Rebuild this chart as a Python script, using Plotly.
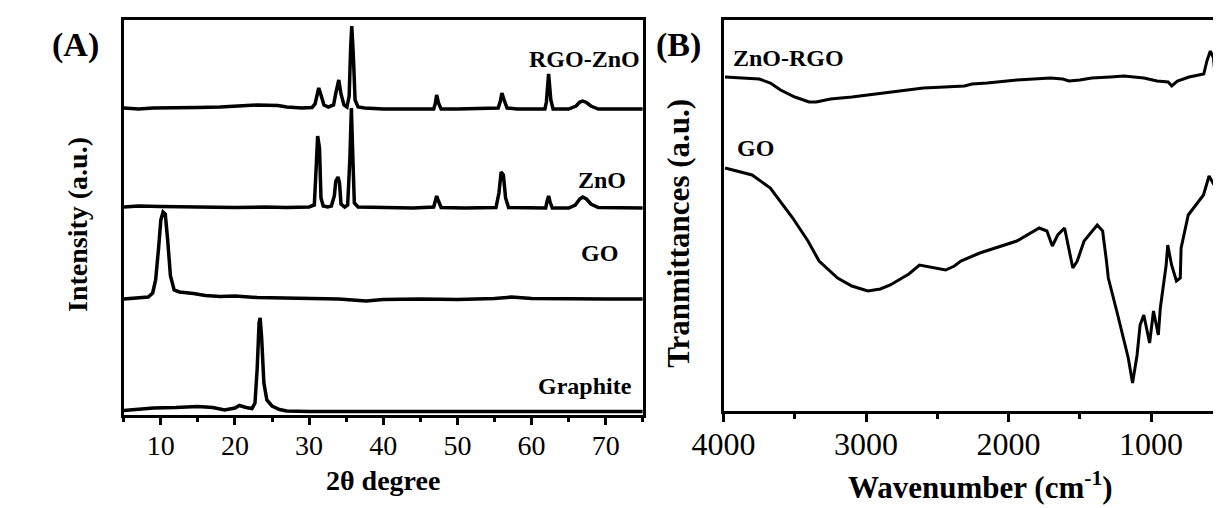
import plotly.graph_objects as go

# ---------------- Panel A : XRD (2theta, intensity a.u.) ----------------
rgo_zno_x = [5, 7, 9, 12, 15, 18, 20, 21.6, 23, 25.8, 27, 29, 30.4, 30.8, 31.1, 31.3, 31.6, 32.0, 32.6,
             33.3, 33.6, 34.0, 34.3, 34.7, 35.1, 35.4, 35.6, 35.75, 35.95, 36.2, 36.6, 37.5, 40, 44, 46.8,
             47.0, 47.2, 47.45, 47.8, 50, 53, 55.5, 55.8, 56.0, 56.3, 56.7, 58, 61.8, 62.0, 62.3, 62.6, 62.9,
             65, 66.0, 66.5, 66.9, 67.4, 68.0, 69, 72, 75]
rgo_zno_y = [307, 306, 307, 307, 307.5, 308, 308.5, 309.5, 310, 309.5, 308, 307, 307.5, 311, 321, 327, 320, 310, 308,
             310, 322, 335, 321, 310, 308, 319, 367, 389, 362, 315, 308, 307, 306, 306, 306,
             311, 320, 312, 306, 306, 307, 307, 314, 322, 315, 307, 306, 306, 313, 341, 315, 306,
             306, 309, 313, 314, 312.5, 309, 306, 306, 306]

zno_x = [5, 7, 10, 13, 16, 20, 24, 27, 30.0, 30.7, 30.95, 31.15, 31.4, 31.6, 31.9, 32.5, 33.0, 33.4, 33.6,
         33.9, 34.1, 34.3, 34.8, 35.2, 35.5, 35.7, 35.9, 36.1, 36.6, 40, 44, 46.8, 47.0, 47.2, 47.45, 47.8,
         51, 55.2, 55.6, 55.9, 56.2, 56.5, 56.9, 60, 61.9, 62.1, 62.3, 62.5, 62.8, 65, 65.9, 66.5, 66.9,
         67.4, 68.0, 69, 72, 75]
zno_y = [208, 209, 208.5, 208, 208, 207.5, 208, 207.5, 208, 210, 247, 279, 267, 217, 209, 208, 209, 219, 234,
         238, 232, 211, 208, 210, 257, 307, 257, 212, 208, 207.5, 207, 208, 214, 219, 214, 207.5,
         207, 207.5, 222, 243, 240, 217, 207.5, 207, 207, 214, 219, 213, 207, 207, 210, 216, 218,
         216, 211, 207.5, 207, 207]

go_x = [5, 6, 7.5, 8.3, 8.9, 9.3, 9.7, 10.0, 10.3, 10.6, 10.9, 11.3, 11.8, 12.5, 14.4, 16, 18, 20, 23, 26,
        30, 34, 37.7, 40, 45, 50, 55, 57.3, 60, 65, 70, 75]
go_y = [116, 116.5, 117, 118, 122, 135, 167, 195, 203, 201, 177, 139, 125, 123, 121.5, 119.5, 118.5, 119,
        117.5, 117, 116.5, 116, 114, 115.5, 116, 115.5, 116.5, 118, 116.5, 116, 116, 116]

graphite_x = [5, 7, 9, 12, 15, 17, 18.6, 20, 20.6, 21.5, 22.3, 22.7, 23.0, 23.25, 23.4, 23.6, 23.9, 24.3,
              25.0, 26, 27, 30, 40, 50, 60, 70, 75]
graphite_y = [4.5, 5.5, 7, 7.5, 8.5, 7.5, 5, 7, 9.5, 7.5, 6.5, 12, 47, 92, 97, 77, 32, 15,
              9, 5.5, 4, 3.5, 3.5, 3.5, 3.5, 3.5, 3.5]

xrd_ticks = [10, 20, 30, 40, 50, 60, 70]

# ---------------- Panel B : FTIR (wavenumber, transmittance a.u.) ----------------
znorgo_x = [3990, 3850, 3750, 3672, 3600, 3500, 3400, 3350, 3250, 3100, 2988, 2800, 2598, 2450, 2310, 2257,
            2150, 1942, 1800, 1706, 1620, 1575, 1500, 1416, 1286, 1191, 1050, 958, 880, 855, 815, 733, 630,
            608, 584, 562, 542, 521, 508, 489, 473, 460]
znorgo_y = [334, 333, 332, 328, 321, 314, 309, 309, 312, 314, 316, 319, 323, 324, 325, 327,
            328, 331, 332, 333, 332, 330, 331, 333, 334, 335, 333, 330, 329, 325, 330, 334, 337,
            350, 360, 353, 323, 303, 270, 260, 263, 293]

go_ir_x = [3990, 3800, 3672, 3515, 3408, 3330, 3200, 3100, 2988, 2900, 2830, 2700, 2625, 2560, 2442, 2380,
           2335, 2202, 2100, 1942, 1785, 1731, 1693, 1655, 1607, 1575, 1549, 1518, 1470, 1378, 1340, 1313,
           1300, 1234, 1196, 1160, 1130, 1098, 1077, 1051, 1010, 983, 949, 935, 894, 883, 856, 822, 795,
           789, 739, 632, 593, 555, 514, 477, 455]
go_ir_y = [243, 236, 223, 193, 170, 150, 133, 125, 120, 122, 126, 137, 146, 144, 141, 145,
           150, 158, 163, 170, 183, 180, 165, 176, 183, 160, 143, 150, 170, 186, 180, 150,
           133, 96, 73, 53, 28, 56, 86, 96, 68, 100, 76, 103, 146, 166, 146, 130, 133,
           163, 196, 216, 235, 226, 215, 230, 231]

ir_ticks = [4000, 3000, 2000, 1000]

W, H = 1221, 508
def px(x):
    return x / W
def py(y):
    return 1 - y / H

SERIF = "Liberation Serif, Times New Roman, serif"
fig = go.Figure()
lineA = dict(color="black", width=3.5)
lineB = dict(color="black", width=3)
for xs, ys in [(rgo_zno_x, rgo_zno_y), (zno_x, zno_y), (go_x, go_y), (graphite_x, graphite_y)]:
    fig.add_trace(go.Scatter(x=xs, y=ys, mode="lines", line=lineA, xaxis="x", yaxis="y",
                             showlegend=False, hoverinfo="skip"))
for xs, ys in [(znorgo_x, znorgo_y), (go_ir_x, go_ir_y)]:
    fig.add_trace(go.Scatter(x=xs, y=ys, mode="lines", line=lineB, xaxis="x2", yaxis="y2",
                             showlegend=False, hoverinfo="skip"))

fig.update_layout(
    width=W, height=H, margin=dict(l=0, r=0, t=0, b=0),
    font=dict(family=SERIF, color="black"),
    paper_bgcolor="white", plot_bgcolor="white",
    xaxis=dict(domain=[px(86), px(619)], range=[5, 75], tickvals=xrd_ticks,
               showline=True, linecolor="black", linewidth=3, mirror=True,
               ticks="outside", ticklen=7, tickwidth=2.5, tickcolor="black",
               minor=dict(dtick=5, tick0=5, ticks="outside", ticklen=4, tickwidth=2.5, tickcolor="black"),
               showgrid=False, zeroline=False, ticklabelstandoff=-4,
               tickfont=dict(family=SERIF, size=28, color="black")),
    yaxis=dict(domain=[py(407), py(12)], range=[0, 395], showline=True, linecolor="black", linewidth=3,
               mirror=True, showticklabels=False, ticks="", showgrid=False, zeroline=False),
    xaxis2=dict(domain=[px(702), 1.0], range=[4000, 453], tickvals=ir_ticks, anchor="y2",
                showline=True, linecolor="black", linewidth=2.6, mirror=True,
                ticks="outside", ticklen=8, tickwidth=2.5, tickcolor="black",
                minor=dict(dtick=500, tick0=0, ticks="outside", ticklen=5, tickwidth=2.5, tickcolor="black"),
                showgrid=False, zeroline=False, ticklabelstandoff=-5,
                tickfont=dict(family=SERIF, size=32, color="black")),
    yaxis2=dict(domain=[py(403), py(12)], range=[0, 391], anchor="x2", showline=True, linecolor="black",
                linewidth=2.6, showticklabels=False, ticks="", showgrid=False, zeroline=False),
)

def ann(text, x, y, size, xanchor="center", angle=0, yanchor="middle"):
    fig.add_annotation(text=text, x=px(x), y=py(y), xref="paper", yref="paper", showarrow=False,
                       xanchor=xanchor, yanchor=yanchor, textangle=angle, borderpad=0,
                       font=dict(family=SERIF, size=size, color="black"))

ann("<b>(A)</b>", 36, 37, 34)
ann("<b>(B)</b>", 656, 37, 34)
ann("<b>Intensity (a.u.)</b>", 38, 217, 28, angle=-90)
ann("<b>Tranmittances (a.u.)</b>", 655, 225, 31, angle=-90)
ann("<b>2θ degree</b>", 352, 472, 28)
ann("<b>Wavenumber (cm<sup>-1</sup>)</b>", 966, 498, 31, yanchor="bottom")
ann("<b>RGO-ZnO</b>", 617, 51, 24, xanchor="right")
ann("<b>ZnO</b>", 603, 172, 24, xanchor="right")
ann("<b>GO</b>", 595, 245, 24, xanchor="right")
ann("<b>Graphite</b>", 609, 378, 24, xanchor="right")
ann("<b>ZnO-RGO</b>", 711, 50, 24, xanchor="left")
ann("<b>GO</b>", 715, 140, 24, xanchor="left")

fig.write_html("out.html")
